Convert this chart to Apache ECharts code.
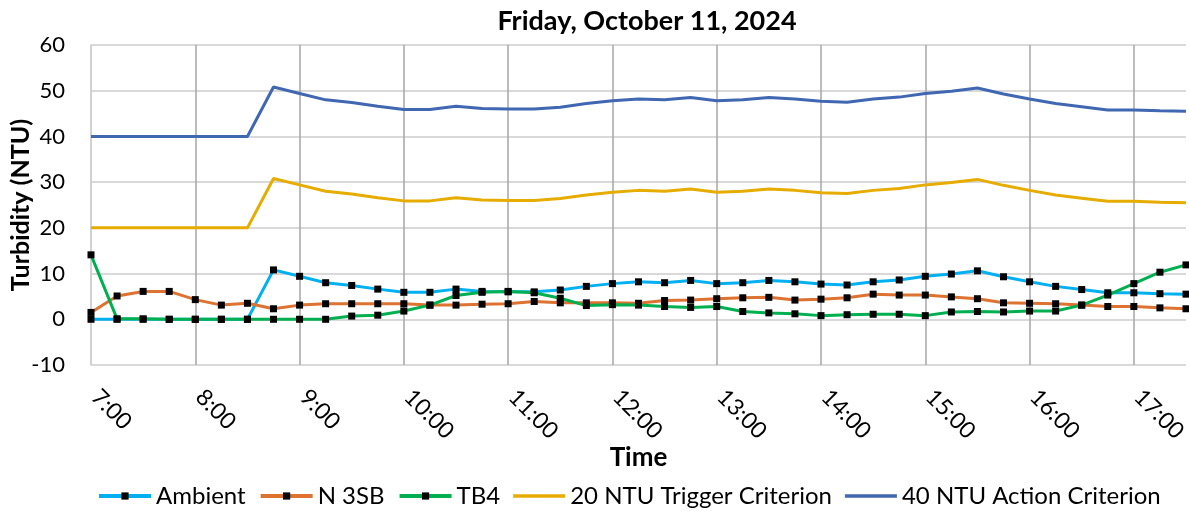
<!DOCTYPE html>
<html>
<head>
<meta charset="utf-8">
<script src="https://cdn.jsdelivr.net/npm/echarts@6/dist/echarts.min.js"></script>
<style>
  html, body { margin: 0; padding: 0; background: #fff; }
  #chart { width: 1189px; height: 516px; }
</style>
</head>
<body>
<div id="chart"></div>
<script>
// 15 minute readings, 7:00 - 17:30
const times = ['7:00','7:15','7:30','7:45','8:00','8:15','8:30','8:45','9:00','9:15','9:30','9:45',
  '10:00','10:15','10:30','10:45','11:00','11:15','11:30','11:45','12:00','12:15','12:30','12:45',
  '13:00','13:15','13:30','13:45','14:00','14:15','14:30','14:45','15:00','15:15','15:30','15:45',
  '16:00','16:15','16:30','16:45','17:00','17:15','17:30'];

const ambient = [0,0,0,0,0,0,0,10.8,9.4,8.0,7.4,6.6,5.9,5.9,6.6,6.1,6.0,6.0,6.4,7.2,7.8,8.2,8.0,8.5,
  7.8,8.0,8.5,8.2,7.7,7.5,8.2,8.6,9.4,9.9,10.6,9.3,8.2,7.2,6.5,5.8,5.8,5.6,5.5];
const n3sb = [1.5,5.1,6.1,6.1,4.3,3.1,3.5,2.3,3.1,3.4,3.4,3.4,3.4,3.1,3.1,3.3,3.4,3.9,3.6,3.6,3.6,3.5,
  4.1,4.2,4.5,4.7,4.8,4.2,4.4,4.7,5.5,5.3,5.3,4.9,4.5,3.6,3.5,3.4,3.1,2.8,2.8,2.5,2.3];
const tb4 = [14.1,0.1,0.1,0,0,0,0,0,0,0,0.7,0.9,1.8,3.1,5.2,5.9,6.1,5.8,4.6,3.0,3.2,3.1,2.8,2.6,
  2.8,1.7,1.4,1.2,0.8,1.0,1.1,1.1,0.8,1.6,1.7,1.6,1.8,1.8,3.1,5.3,7.8,10.3,11.9];
const trigger20 = [20,20,20,20,20,20,20,30.8,29.4,28.0,27.4,26.6,25.9,25.9,26.6,26.1,26.0,26.0,26.4,
  27.2,27.8,28.2,28.0,28.5,27.8,28.0,28.5,28.2,27.7,27.5,28.2,28.6,29.4,29.9,30.6,29.3,28.2,27.2,
  26.5,25.8,25.8,25.6,25.5];
const action40 = [40,40,40,40,40,40,40,50.8,49.4,48.0,47.4,46.6,45.9,45.9,46.6,46.1,46.0,46.0,46.4,
  47.2,47.8,48.2,48.0,48.5,47.8,48.0,48.5,48.2,47.7,47.5,48.2,48.6,49.4,49.9,50.6,49.3,48.2,47.2,
  46.5,45.8,45.8,45.6,45.5];

const font = 'Lato, "Noto Sans", sans-serif';
// plain line icon for the criterion entries (no marker)
const lineIcon = 'path://M0,0 L50,0 L50,3.5 L0,3.5 Z';

function markedLine(name, data, color) {
  return {
    name: name, type: 'line', data: data,
    symbol: 'rect', symbolSize: 7,
    lineStyle: { color: color, width: 3 },
    itemStyle: { color: '#000' },
    animation: false
  };
}
function plainLine(name, data, color) {
  return {
    name: name, type: 'line', data: data,
    symbol: 'none',
    lineStyle: { color: color, width: 3 },
    itemStyle: { color: color },
    animation: false
  };
}

const ec = echarts.init(document.getElementById('chart'));
ec.setOption({
  animation: false,
  textStyle: { fontFamily: font },
  title: {
    text: 'Friday, October 11, 2024',
    left: 642, top: 3, textAlign: 'center',
    textStyle: { fontFamily: font, fontWeight: 'bold', fontSize: 27, color: '#000' }
  },
  grid: { left: 91, right: 3, top: 45, bottom: 151, outerBoundsMode: 'none' },
  legend: {
    bottom: 3, left: 92,
    itemWidth: 52, itemHeight: 9, itemGap: 13,
    lineStyle: { width: 4 },
    textStyle: { fontFamily: font, fontSize: 24, color: '#000' },
    data: [
      'Ambient', 'N 3SB', 'TB4',
      { name: '20 NTU Trigger Criterion', icon: lineIcon },
      { name: '40 NTU Action Criterion', icon: lineIcon }
    ]
  },
  xAxis: {
    type: 'category', data: times, boundaryGap: false,
    name: 'Time', nameLocation: 'middle', nameGap: 80, nameMoveOverlap: false,
    nameTextStyle: { fontFamily: font, fontWeight: 'bold', fontSize: 26, color: '#000' },
    axisLine: { show: false }, axisTick: { show: false },
    axisLabel: { interval: 3, rotate: -45, margin: 24, padding: [0, 0, 0, 6],
      fontSize: 23, color: '#000', fontFamily: font },
    splitLine: { show: true, interval: 3, lineStyle: { color: '#a6a6a6', width: 1.5 } }
  },
  yAxis: {
    type: 'value', min: -10, max: 60, interval: 10,
    name: 'Turbidity (NTU)', nameLocation: 'middle', nameGap: 58, nameRotate: 90, nameMoveOverlap: false,
    nameTextStyle: { fontFamily: font, fontWeight: 'bold', fontSize: 25, color: '#000' },
    axisLine: { show: true, lineStyle: { color: '#d9d9d9', width: 1.5 } },
    axisTick: { show: false },
    axisLabel: { margin: 26, fontSize: 22, color: '#000', fontFamily: font },
    splitLine: { lineStyle: { color: '#d9d9d9', width: 2 } }
  },
  series: [
    markedLine('Ambient', ambient, '#00b0f0'),
    markedLine('N 3SB', n3sb, '#dd7231'),
    markedLine('TB4', tb4, '#00b050'),
    plainLine('20 NTU Trigger Criterion', trigger20, '#e6ac00'),
    plainLine('40 NTU Action Criterion', action40, '#4067b1')
  ]
});
</script>
</body>
</html>
